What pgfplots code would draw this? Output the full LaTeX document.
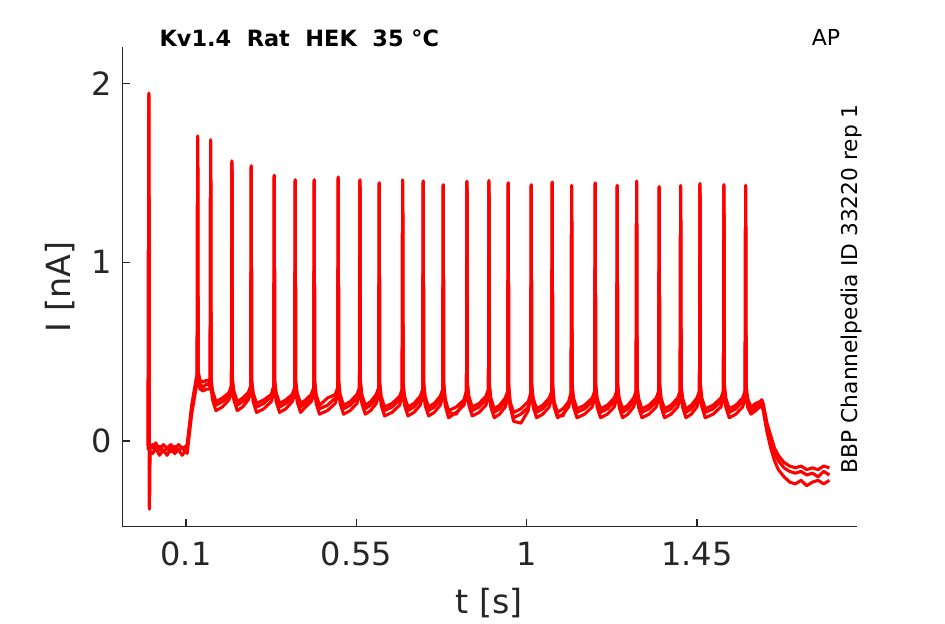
\documentclass[border=0pt]{standalone}
\usepackage{fontspec}
\setmainfont{DejaVu Sans}
\usepackage{pgfplots}
\usepackage{pgfplotstable}
\pgfplotsset{compat=1.18}
\definecolor{axisgray}{HTML}{262626}

% three repetitions of the AP-clamp current, in nA against s
\pgfplotstableread{
x a b c
0.0000 -0.03 -0.05 -0.02
0.0018 1.946 1.940 1.930
0.0032 -0.382 -0.370 -0.360
0.0045 -0.03 -0.06 -0.02
0.0120 -0.02 -0.07 -0.04
0.0200 -0.05 -0.04 -0.01
0.0300 -0.03 -0.08 -0.05
0.0400 -0.06 -0.05 -0.02
0.0500 -0.04 -0.08 -0.04
0.0600 -0.06 -0.04 -0.02
0.0700 -0.03 -0.07 -0.05
0.0800 -0.05 -0.05 -0.02
0.0900 -0.04 -0.08 -0.04
0.1000 -0.06 -0.05 -0.03
0.1030 -0.04 -0.07 -0.02
0.1150 0.18 0.15 0.20
0.1270 0.33 0.30 0.35
0.1296 0.35 0.32 0.37
0.1308 1.706 1.700 1.695
0.1320 0.38 0.35 0.39
0.1370 0.32 0.29 0.34
0.1450 0.30 0.28 0.33
0.1550 0.32 0.29 0.34
0.1625 0.31 0.29 0.33
0.1639 0.34 0.31 0.36
0.1651 1.685 1.680 1.675
0.1663 0.33 0.30 0.35
0.1701 0.26 0.23 0.28
0.1791 0.20 0.17 0.22
0.1961 0.22 0.19 0.24
0.2134 0.25 0.23 0.27
0.2202 0.30 0.27 0.31
0.2214 1.567 1.560 1.555
0.2226 0.33 0.30 0.35
0.2264 0.26 0.23 0.28
0.2354 0.20 0.17 0.22
0.2495 0.22 0.19 0.24
0.2644 0.25 0.23 0.27
0.2712 0.30 0.27 0.31
0.2724 1.539 1.535 1.530
0.2736 0.33 0.30 0.34
0.2774 0.25 0.22 0.27
0.2864 0.19 0.16 0.21
0.3058 0.21 0.18 0.23
0.3252 0.25 0.22 0.26
0.3320 0.30 0.27 0.31
0.3332 1.486 1.480 1.475
0.3344 0.32 0.29 0.34
0.3382 0.25 0.22 0.27
0.3472 0.19 0.16 0.21
0.3637 0.21 0.18 0.23
0.3806 0.24 0.22 0.26
0.3874 0.29 0.26 0.30
0.3886 1.461 1.455 1.450
0.3898 0.32 0.29 0.34
0.3936 0.25 0.22 0.27
0.4026 0.19 0.16 0.21
0.4162 0.21 0.19 0.23
0.4308 0.24 0.22 0.26
0.4376 0.29 0.26 0.30
0.4388 1.461 1.455 1.450
0.4400 0.32 0.29 0.34
0.4438 0.24 0.21 0.26
0.4528 0.18 0.15 0.20
0.4737 0.20 0.17 0.24
0.4942 0.24 0.21 0.26
0.5010 0.29 0.26 0.30
0.5022 1.477 1.470 1.465
0.5034 0.32 0.29 0.34
0.5072 0.24 0.21 0.26
0.5162 0.18 0.15 0.20
0.5338 0.20 0.17 0.22
0.5516 0.24 0.21 0.26
0.5584 0.29 0.26 0.30
0.5596 1.461 1.455 1.450
0.5608 0.32 0.29 0.34
0.5646 0.24 0.21 0.26
0.5736 0.18 0.15 0.20
0.5877 0.20 0.17 0.22
0.6026 0.24 0.21 0.26
0.6094 0.29 0.26 0.30
0.6106 1.444 1.440 1.435
0.6118 0.31 0.28 0.33
0.6156 0.23 0.20 0.25
0.6246 0.17 0.14 0.19
0.6446 0.19 0.16 0.21
0.6644 0.23 0.20 0.25
0.6712 0.28 0.25 0.29
0.6724 1.461 1.455 1.450
0.6736 0.31 0.28 0.33
0.6774 0.23 0.20 0.25
0.6864 0.17 0.14 0.19
0.7023 0.19 0.16 0.21
0.7188 0.23 0.20 0.25
0.7256 0.28 0.25 0.29
0.7268 1.455 1.450 1.445
0.7280 0.31 0.28 0.33
0.7318 0.23 0.20 0.25
0.7408 0.17 0.14 0.19
0.7559 0.19 0.16 0.21
0.7717 0.23 0.20 0.25
0.7785 0.28 0.25 0.29
0.7797 1.434 1.430 1.425
0.7809 0.31 0.28 0.33
0.7847 0.23 0.20 0.24
0.7937 0.17 0.13 0.16
0.8141 0.19 0.16 0.15
0.8343 0.23 0.20 0.22
0.8411 0.28 0.25 0.28
0.8423 1.453 1.450 1.445
0.8435 0.31 0.28 0.33
0.8473 0.23 0.20 0.25
0.8563 0.17 0.14 0.19
0.8743 0.19 0.16 0.21
0.8924 0.23 0.20 0.25
0.8992 0.28 0.25 0.29
0.9004 1.457 1.450 1.445
0.9016 0.30 0.27 0.32
0.9054 0.22 0.19 0.24
0.9144 0.16 0.13 0.18
0.9285 0.18 0.15 0.20
0.9434 0.22 0.19 0.24
0.9502 0.27 0.24 0.28
0.9514 1.444 1.440 1.435
0.9526 0.30 0.27 0.32
0.9564 0.22 0.19 0.20
0.9654 0.16 0.13 0.11
0.9848 0.18 0.15 0.10
1.0042 0.22 0.19 0.17
1.0110 0.27 0.24 0.26
1.0122 1.434 1.430 1.425
1.0134 0.30 0.27 0.32
1.0172 0.22 0.19 0.24
1.0262 0.16 0.13 0.18
1.0427 0.18 0.15 0.20
1.0596 0.22 0.19 0.24
1.0664 0.27 0.24 0.28
1.0676 1.449 1.445 1.440
1.0688 0.30 0.27 0.32
1.0726 0.22 0.19 0.21
1.0816 0.16 0.13 0.14
1.0958 0.18 0.15 0.14
1.1109 0.22 0.19 0.21
1.1177 0.27 0.24 0.27
1.1189 1.430 1.425 1.420
1.1201 0.30 0.27 0.32
1.1239 0.22 0.19 0.24
1.1329 0.16 0.13 0.18
1.1532 0.18 0.15 0.20
1.1732 0.22 0.19 0.24
1.1800 0.27 0.24 0.28
1.1812 1.444 1.440 1.435
1.1824 0.30 0.27 0.32
1.1862 0.22 0.19 0.24
1.1952 0.16 0.13 0.18
1.2132 0.18 0.15 0.20
1.2314 0.22 0.19 0.24
1.2382 0.27 0.24 0.28
1.2394 1.430 1.425 1.420
1.2406 0.30 0.27 0.32
1.2444 0.22 0.19 0.24
1.2534 0.16 0.13 0.18
1.2676 0.18 0.15 0.20
1.2826 0.22 0.19 0.24
1.2894 0.27 0.24 0.28
1.2906 1.453 1.450 1.445
1.2918 0.30 0.27 0.32
1.2956 0.22 0.19 0.24
1.3046 0.16 0.13 0.18
1.3234 0.18 0.15 0.20
1.3423 0.22 0.19 0.24
1.3491 0.27 0.24 0.28
1.3503 1.423 1.420 1.415
1.3515 0.30 0.27 0.32
1.3553 0.22 0.19 0.24
1.3643 0.16 0.13 0.18
1.3814 0.18 0.15 0.20
1.3989 0.22 0.19 0.24
1.4057 0.27 0.24 0.28
1.4069 1.429 1.425 1.420
1.4081 0.30 0.27 0.32
1.4119 0.22 0.19 0.24
1.4209 0.16 0.13 0.18
1.4350 0.18 0.15 0.20
1.4499 0.22 0.19 0.24
1.4567 0.27 0.24 0.28
1.4579 1.440 1.435 1.430
1.4591 0.30 0.27 0.32
1.4629 0.22 0.19 0.24
1.4719 0.16 0.13 0.18
1.4927 0.18 0.15 0.20
1.5132 0.22 0.19 0.24
1.5200 0.27 0.24 0.28
1.5212 1.434 1.430 1.425
1.5224 0.30 0.27 0.32
1.5262 0.22 0.19 0.24
1.5352 0.16 0.13 0.18
1.5528 0.18 0.15 0.20
1.5706 0.22 0.19 0.24
1.5774 0.27 0.24 0.28
1.5786 1.430 1.425 1.420
1.5798 0.30 0.27 0.32
1.5836 0.22 0.19 0.24
1.5926 0.17 0.15 0.19
1.6050 0.19 0.17 0.21
1.6160 0.21 0.19 0.22
1.6210 0.23 0.20 0.23
1.6250 0.20 0.17 0.21
1.6350 0.08 0.05 0.10
1.6450 0.00 -0.04 0.03
1.6550 -0.07 -0.11 -0.04
1.6650 -0.11 -0.16 -0.08
1.6800 -0.15 -0.20 -0.12
1.6950 -0.17 -0.23 -0.14
1.7100 -0.18 -0.24 -0.15
1.7250 -0.17 -0.22 -0.14
1.7400 -0.19 -0.25 -0.16
1.7550 -0.18 -0.23 -0.15
1.7700 -0.20 -0.22 -0.16
1.7850 -0.17 -0.24 -0.14
1.8000 -0.19 -0.22 -0.15
}\trace

\begin{document}
\begin{tikzpicture}
\useasboundingbox (-91.7pt,-73pt) rectangle (617.05pt,395pt);
\begin{axis}[
    at={(0,0)}, anchor=south west,
    scale only axis,
    width=550.8pt, height=359.6pt,
    xmin=-0.0684, xmax=1.872,
    ymin=-0.479, ymax=2.202,
    axis lines=left,
    axis line style={-, draw=axisgray, line width=0.9pt},
    xtick={0.1,0.55,1,1.45},
    xticklabels={0.1,0.55,1,1.45},
    ytick={0,1,2},
    tick align=inside,
    major tick length=5.5pt,
    tick style={draw=axisgray, line width=0.9pt},
    /pgf/number format/assume math mode=true,
    tick label style={font=\fontsize{24}{28}\selectfont, text=axisgray},
    xticklabel style={yshift=-8pt},
    yticklabel style={xshift=-4pt},
    xlabel={t [s]},
    ylabel={I [nA]},
    label style={font=\fontsize{25}{30}\selectfont, text=axisgray},
    xlabel style={at={(axis description cs:0.5,-0.1821)}, anchor=base},
    ylabel style={at={(axis description cs:-0.0699,0.5)}, anchor=base, rotate=0},
    clip=false,
]
\addplot[red, line width=2.3pt, line join=round] table[x=x, y=b] {\trace};
\addplot[red, line width=2.3pt, line join=round] table[x=x, y=c] {\trace};
\addplot[red, line width=2.3pt, line join=round] table[x=x, y=a] {\trace};

\node[anchor=base west, inner sep=0pt, font=\bfseries\fontsize{16.8}{20}\selectfont]
    at (axis description cs:0.0504,1.0011) {Kv1.4\ \ Rat\ \ HEK\ \ 35 °C};
\node[anchor=base west, inner sep=0pt, font=\fontsize{16.5}{19}\selectfont]
    at (axis description cs:0.9386,1.0025) {AP};
\node[anchor=base west, inner sep=0pt, rotate=90, font=\fontsize{16.3}{19}\selectfont]
    at (axis description cs:1.0008,0.1112) {BBP Channelpedia ID 33220 rep 1};
\end{axis}
\end{tikzpicture}
\end{document}
